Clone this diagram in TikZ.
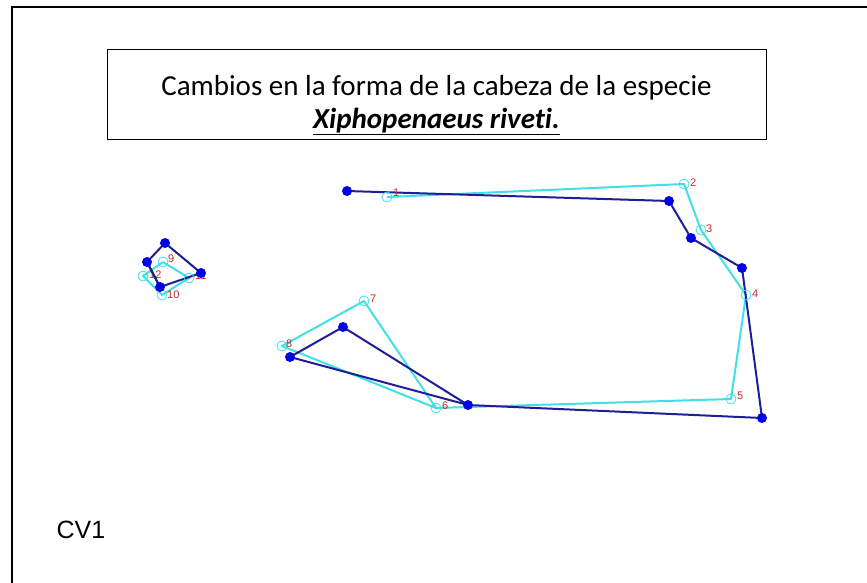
\documentclass[tikz,border=0pt]{standalone}
\usepackage{fontspec}
\setmainfont{Carlito}[Ligatures=NoCommon]
\newfontfamily\arialf{Liberation Sans}
\definecolor{navyl}{RGB}{30,30,150}
\definecolor{bluept}{RGB}{0,0,235}
\definecolor{cyanl}{RGB}{64,224,230}
\definecolor{redl}{RGB}{200,40,40}
\tikzset{
  dline/.style={navyl, line width=2pt, line join=round},
  cline/.style={cyanl, line width=2pt, line join=round},
  dpt/.style={circle, fill=bluept, inner sep=0pt, minimum size=10pt},
  cpt/.style={circle, draw=cyanl, line width=0.8pt, fill=none, inner sep=0pt, minimum size=10pt},
  lbl/.style={redl, font=\arialf\fontsize{11}{12}\selectfont, inner sep=0pt, anchor=south west},
  ttl/.style={font=\fontsize{29}{33}\selectfont, inner sep=0pt, anchor=base},
}
\begin{document}
\begin{tikzpicture}[x=1pt,y=-1pt]
\useasboundingbox (0,0) rectangle (867,582);
% frame
\draw[line width=1.6pt] (12,590) -- (12,7) -- (875,7);
% title
\node[draw, line width=1pt, minimum width=659pt, minimum height=90pt, inner sep=0pt] (title) at (436.5,94) {};
\node[ttl] (t1) at (436.5,95) {Cambios en la forma de la cabeza de la especie};
\node[ttl] (t2) at (436.5,128) {\underline{\textbf{\textit{Xiphopenaeus riveti.}}}};
% CV1
\node[font=\arialf\fontsize{25}{28}\selectfont, inner sep=0pt] (cv) at (81,530) {CV1};
% cyan coordinates
\coordinate (c1) at (387,197);
\coordinate (c2) at (684,184);
\coordinate (c3) at (701,230);
\coordinate (c4) at (746,295);
\coordinate (c5) at (731,399);
\coordinate (c6) at (436,408);
\coordinate (c7) at (364,301);
\coordinate (c8) at (282,346);
\coordinate (c9) at (163,262);
\coordinate (c10) at (162,295);
\coordinate (c11) at (189,278);
\coordinate (c12) at (143,276);
% dark coordinates
\coordinate (d1) at (347,191);
\coordinate (d2) at (669,201);
\coordinate (d3) at (691,238);
\coordinate (d4) at (742,268);
\coordinate (d5) at (762,418);
\coordinate (d6) at (468,405);
\coordinate (d7) at (343,327);
\coordinate (d8) at (290,357);
\coordinate (d9) at (165,243);
\coordinate (d10) at (160,287);
\coordinate (d11) at (201,273);
\coordinate (d12) at (147,262);
% cyan lines
\draw[cline] (c1) -- (c2) -- (c3) -- (c4) -- (c5) -- (c6) -- (c7) -- (c8) -- (c6);
\draw[cline] (c9) -- (c12) -- (c10) -- (c11) -- (c9);
% dark lines
\draw[dline] (d1) -- (d2) -- (d3) -- (d4) -- (d5) -- (d6) -- (d7) -- (d8) -- (d6);
\draw[dline] (d9) -- (d12) -- (d10) -- (d11) -- (d9);
% cyan points
\foreach \i in {1,...,12} { \node[cpt] (cp\i) at (c\i) {}; }
% labels
\node[lbl] (l1) at (393,197) {1};
\node[lbl] (l2) at (690,187) {2};
\node[lbl] (l3) at (706,233) {3};
\node[lbl] (l4) at (752,298) {4};
\node[lbl] (l5) at (737,400) {5};
\node[lbl] (l6) at (442,410) {6};
\node[lbl] (l7) at (370,303) {7};
\node[lbl] (l8) at (286,348) {8};
\node[lbl] (l9) at (168,263) {9};
\node[lbl] (l10) at (167,299) {10};
\node[lbl] (l11) at (195,280) {11};
\node[lbl] (l12) at (149,279) {12};
% dark elements on top
\draw[dline] (d12) -- (d10);
\foreach \i in {1,...,12} { \node[dpt] (dp\i) at (d\i) {}; }
\end{tikzpicture}
\end{document}
